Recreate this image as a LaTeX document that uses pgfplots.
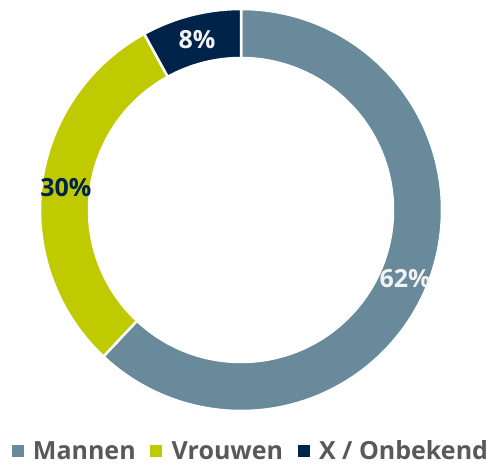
\documentclass[border=0pt]{standalone}
\usepackage{pgfplots}
\usepackage{pgfplotstable}
\usepackage{fontspec}
\setmainfont{Open Sans}
\pgfplotsset{compat=1.18}

\definecolor{mannen}{HTML}{688A9B}
\definecolor{vrouwen}{HTML}{BFCA00}
\definecolor{onbekend}{HTML}{00234A}
\definecolor{legtext}{HTML}{595959}

\pgfplotstableread{
label value
Mannen 62
Vrouwen 30
Onbekend 8
}\geslacht

% outer / inner radius of the ring (axis units = pt)
\def\Ro{201}
\def\Ri{152}
\def\Rl{176.5}

% annulus sector from angle #1 to #2 in colour #3
\newcommand{\sector}[3]{%
  \fill[#3, draw=white, line width=2.5pt]
    (axis cs:{\Ro*cos(#1)},{\Ro*sin(#1)}) arc[start angle=#1, end angle=#2, radius=\Ro pt]
    -- (axis cs:{\Ri*cos(#2)},{\Ri*sin(#2)}) arc[start angle=#2, end angle=#1, radius=\Ri pt] -- cycle;
}

\begin{document}
\begin{tikzpicture}
\pgfplotstablegetelem{0}{value}\of\geslacht \let\pA\pgfplotsretval
\pgfplotstablegetelem{1}{value}\of\geslacht \let\pB\pgfplotsretval
\pgfplotstablegetelem{2}{value}\of\geslacht \let\pC\pgfplotsretval
\pgfmathsetmacro\aA{90}
\pgfmathsetmacro\aB{\aA-3.6*\pA}
\pgfmathsetmacro\aC{\aB-3.6*\pB}
\pgfmathsetmacro\aD{\aC-3.6*\pC}
\pgfmathsetmacro\mA{(\aA+\aB)/2}
\pgfmathsetmacro\mB{(\aB+\aC)/2}
\pgfmathsetmacro\mC{(\aC+\aD)/2}
\begin{axis}[
    scale only axis,
    x=1pt, y=1pt,
    xmin=-241, xmax=255,
    ymin=-256, ymax=210,
    hide axis,
    clip=false,
    legend columns=3,
    legend style={
        at={(axis description cs:0.506,0.032)}, anchor=center,
        draw=none, fill=none,
        font=\bfseries\fontsize{25}{28}\selectfont,
        text=legtext,
        /tikz/every odd column/.append style={column sep=8pt},
        /tikz/every even column/.append style={column sep=13pt},
    },
]
% invisible frame: fixes the picture's extent
\path (axis cs:-241,-256) rectangle (axis cs:255,210);

\sector{\aA}{\aB}{mannen}
\sector{\aB}{\aC}{vrouwen}
\sector{\aC}{\aD}{onbekend}

\node[text=white!95!black, font=\bfseries\fontsize{25}{28}\selectfont]
    at (axis cs:{\Rl*cos(\mA)},{\Rl*sin(\mA)-4}) {\pA\%};
\node[text=onbekend, font=\bfseries\fontsize{25}{28}\selectfont]
    at (axis cs:{\Rl*cos(\mB)},{\Rl*sin(\mB)}) {\pB\%};
\node[text=white!95!black, font=\bfseries\fontsize{25}{28}\selectfont]
    at (axis cs:{\Rl*cos(\mC)},{\Rl*sin(\mC)-1}) {\pC\%};

\addlegendimage{only marks, mark=square*, mark size=5.5pt, color=mannen}
\addlegendentry{Mannen}
\addlegendimage{only marks, mark=square*, mark size=5.5pt, color=vrouwen}
\addlegendentry{Vrouwen}
\addlegendimage{only marks, mark=square*, mark size=5.5pt, color=onbekend}
\addlegendentry{X / Onbekend}
\end{axis}
\end{tikzpicture}
\end{document}
